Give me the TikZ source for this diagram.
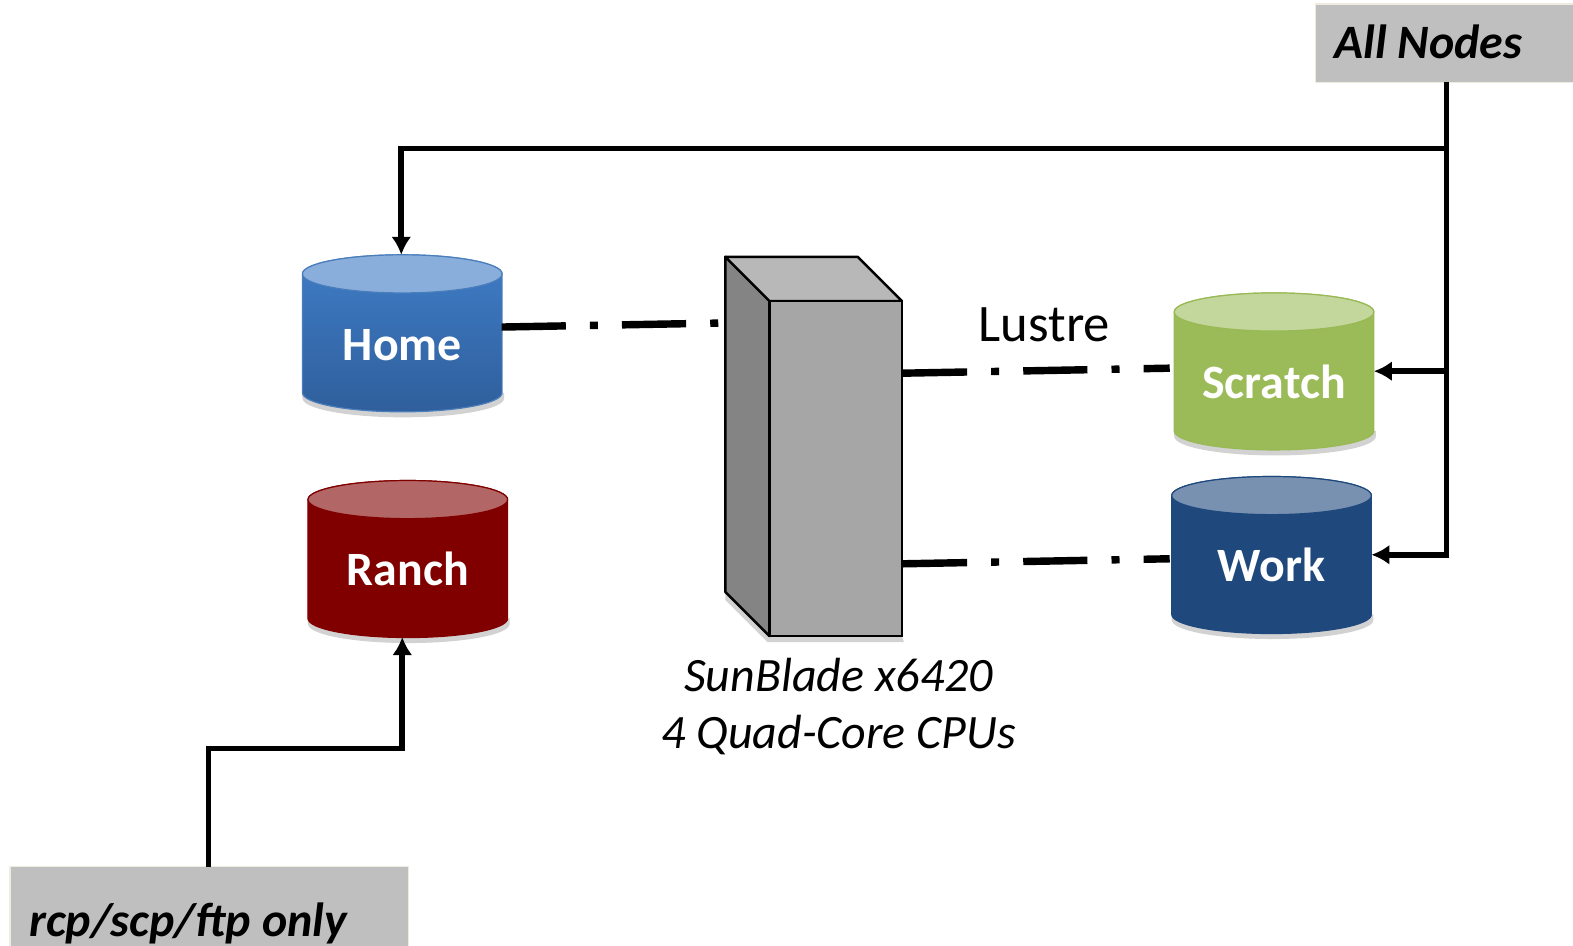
\documentclass[tikz,border=0pt]{standalone}
\usepackage{fontspec}
\setmainfont{Carlito}
\usetikzlibrary{arrows.meta}
\definecolor{homeTop}{HTML}{8AAEDC}
\definecolor{homeHi}{HTML}{3F7CC6}
\definecolor{homeLo}{HTML}{2F5F9C}
\definecolor{homeEdge}{HTML}{4A7EBB}
\definecolor{ranchTop}{HTML}{B36666}
\definecolor{ranchBody}{HTML}{800000}
\definecolor{scratchTop}{HTML}{C3D69B}
\definecolor{scratchBody}{HTML}{9BBB59}
\definecolor{scratchEdge}{HTML}{98B954}
\definecolor{workTop}{HTML}{7991B1}
\definecolor{workBody}{HTML}{1F497D}
\definecolor{boxGray}{HTML}{BFBFBF}
\definecolor{boxEdge}{HTML}{EEECE1}
\definecolor{bladeFront}{HTML}{A6A6A6}
\definecolor{bladeLeft}{HTML}{848484}
\definecolor{bladeTop}{HTML}{B8B8B8}
\definecolor{shadowGray}{HTML}{D2D2D2}
\tikzset{
 cylbox/.style={minimum width=199pt,minimum height=156pt,inner sep=0pt,outer sep=0pt},
 cyllabel/.style={text=white,font=\fontsize{47.7}{48}\selectfont\bfseries,anchor=base,inner sep=0pt},
 graybox/.style={fill=boxGray,draw=boxEdge,line width=1.2pt,anchor=north west,inner sep=0pt,outer sep=0pt},
 boxlabel/.style={font=\fontsize{47.8}{48}\selectfont\bfseries\itshape,anchor=base west,inner sep=0pt},
 plainlabel/.style={font=\fontsize{52.5}{53}\selectfont,anchor=base,inner sep=0pt},
 capt/.style={font=\fontsize{47.8}{48}\selectfont\itshape,anchor=base,inner sep=0pt},
 bus/.style={draw=black,line width=5.6pt,line join=miter},
 busarrow/.style={bus,-{Latex[length=18pt,width=20pt]}},
 lustre/.style={draw=black,line width=7.4pt,dash pattern=on 64pt off 24pt on 8pt off 24pt},
 bladeedge/.style={draw=black,line width=2.4pt,line join=round},
}
% #1 name, #2 left x, #3 top y, #4 text, #5 top fill, #6 body upper, #7 body lower, #8 edge, #9 baseline offset
\newcommand{\storagecyl}[9]{%
 \def\xl{#2}\def\yt{#3}%
 \pgfmathsetmacro{\xr}{#2+199}\pgfmathsetmacro{\xc}{#2+99.5}%
 \pgfmathsetmacro{\ytopc}{#3+19}\pgfmathsetmacro{\ybotc}{#3+137.5}%
 \pgfmathsetmacro{\yshad}{#3+143}\pgfmathsetmacro{\ymid}{#3+78}%
 \pgfmathsetmacro{\ylab}{#3+#9}%
 \fill[shadowGray] (\xl,\yshad) arc[start angle=180,end angle=360,x radius=100.5pt,y radius=19pt] -- (\xr+2,\ybotc) -- (\xl,\ybotc) -- cycle;
 \path[top color=#6,bottom color=#7,draw=#8,line width=1.2pt]
   (\xl,\ytopc) -- (\xl,\ybotc) arc[start angle=180,end angle=360,x radius=99.5pt,y radius=19pt]
   -- (\xr,\ytopc) arc[start angle=0,end angle=180,x radius=99.5pt,y radius=19pt] -- cycle;
 \path[fill=#5,draw=#8,line width=1.2pt] (\xc,\ytopc) ellipse[x radius=99.5pt,y radius=19pt];
 \node[cylbox] (#1) at (\xc,\ymid) {};
 \node[cyllabel] (#1label) at (\xc,\ylab) {#4};
}
\begin{document}
\begin{tikzpicture}[x=1pt,y=-1pt]
\useasboundingbox (0,0) rectangle (1568,942);
\fill[white] (0,0) rectangle (1568,942);

% gray label boxes
\node[graybox,minimum width=258pt,minimum height=78pt] (allnodes) at (1311,4) {};
\node[boxlabel] (allnodeslabel) at (1330,58) {All Nodes};
\node[graybox,minimum width=397pt,minimum height=80pt] (rcp) at (10,864) {};
\node[boxlabel] (rcplabel) at (29,934) {rcp/scp/ftp only};

% cylinders
\storagecyl{home}{301.5}{254}{Home}{homeTop}{homeHi}{homeLo}{homeEdge}{105}
\storagecyl{ranch}{307}{479}{Ranch}{ranchTop}{ranchBody}{ranchBody}{ranchBody}{104.5}
\storagecyl{scratch}{1170.5}{292}{Scratch}{scratchTop}{scratchBody}{scratchBody}{scratchEdge}{105}
\storagecyl{work}{1168}{475}{Work}{workTop}{workBody}{workBody}{workBody}{105}

% blade server
\fill[shadowGray] (723,590) -- (767,634) -- (899,634) -- (901,640) -- (765,640) -- (723,598) -- cycle;
\path[bladeedge,fill=bladeLeft] (723,256) -- (767,300) -- (767,634) -- (723,590) -- cycle;
\path[bladeedge,fill=bladeTop] (723,256) -- (855,256) -- (899,300) -- (767,300) -- cycle;
\node[draw=black,line width=2.4pt,fill=bladeFront,minimum width=132pt,minimum height=334pt,inner sep=0pt,outer sep=0pt] (blade) at (833,467) {};

% coordinates on shapes
\coordinate (homeport) at (500,326);
\coordinate (bladein) at (720,322);
\coordinate (scratchport) at (1166,367);
\coordinate (workport) at (1166,557);
\coordinate (bladeup) at (900,372);
\coordinate (bladedn) at (900,562);
\coordinate (trunk) at (1442,82);
\coordinate (trunkhome) at (1442,148);
\coordinate (homeabove) at (400,148);
\coordinate (homein) at (400,254);
\coordinate (trunkscratch) at (1442,370);
\coordinate (trunkwork) at (1442,553);
\coordinate (rcpout) at (208,864);
\coordinate (rcpbend) at (208,746);
\coordinate (ranchbend) at (401,746);
\coordinate (ranchin) at (401,635);

% dash-dot links
\draw[lustre] (homeport) -- (bladein);
\draw[lustre] (bladeup) -- (scratchport);
\draw[lustre] (bladedn) -- (workport);

% solid links
\draw[bus] (trunk) -- (trunkwork);
\draw[busarrow] (trunkhome) -- (homeabove) -- (homein);
\draw[busarrow] (trunkscratch) -- (scratch.east |- trunkscratch);
\draw[busarrow] ([xshift=2.8pt]trunkwork) -- (work.east |- trunkwork);
\draw[busarrow] (rcpout) -- (rcpbend) -- (ranchbend) -- (ranchin);

% labels
\node[plainlabel] (lustrelabel) at (1041,340) {Lustre};
\node[capt] (sun) at (836,689) {SunBlade x6420};
\node[capt] (cpu) at (836,746) {4 Quad-Core CPUs};
\end{tikzpicture}
\end{document}
